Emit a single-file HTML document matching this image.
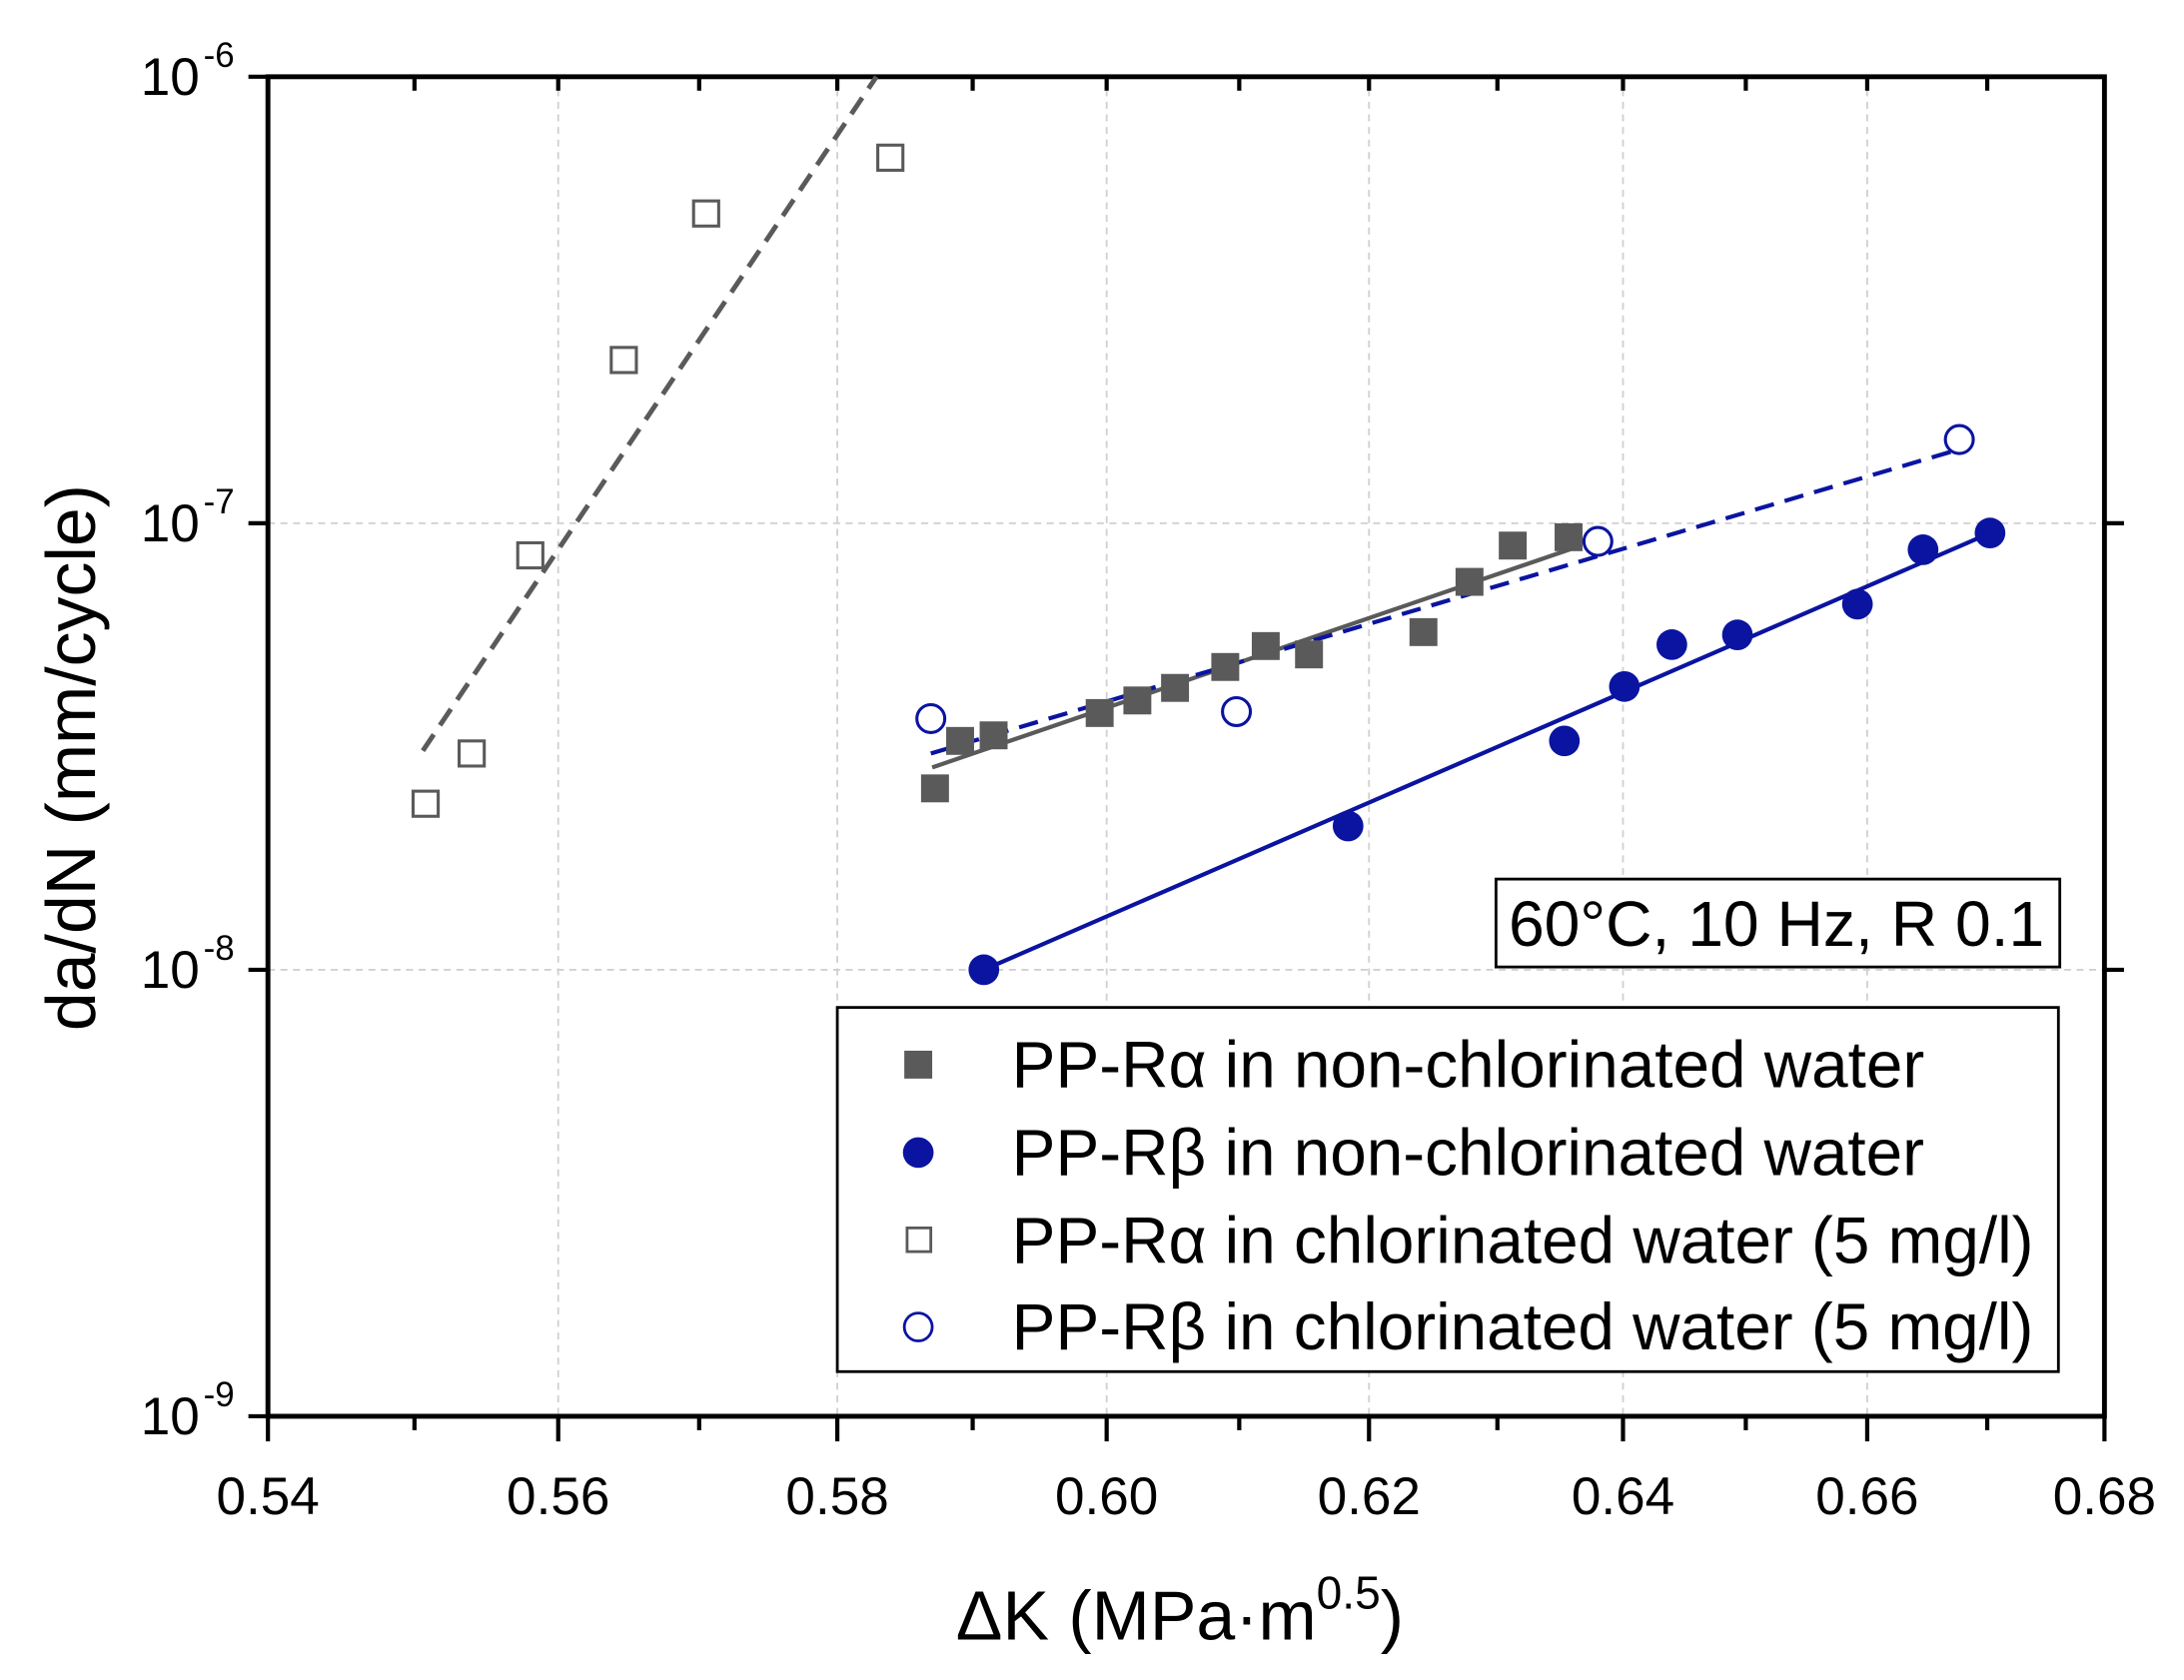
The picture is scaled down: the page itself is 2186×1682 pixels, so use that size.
<!DOCTYPE html>
<html><head><meta charset="utf-8"><style>
html,body{margin:0;padding:0;background:#fff;}
svg{display:block;}
text{font-family:"Liberation Sans",Arial,sans-serif;fill:#000;}
</style></head><body>
<svg width="2186" height="1682" viewBox="0 0 1565 1204" preserveAspectRatio="none">
<rect width="1565" height="1204" fill="#fff"/>
<g stroke="#d0d0d0" stroke-width="1.3" stroke-dasharray="5,4">
<line x1="192" y1="375" x2="1508" y2="375"/><line x1="192" y1="695" x2="1508" y2="695"/>
<line x1="400" y1="55" x2="400" y2="1015"/><line x1="600" y1="55" x2="600" y2="1015"/>
<line x1="793" y1="55" x2="793" y2="1015"/><line x1="981" y1="55" x2="981" y2="1015"/>
<line x1="1163" y1="55" x2="1163" y2="1015"/><line x1="1338" y1="55" x2="1338" y2="1015"/>
</g>
<g stroke="#000" stroke-width="3">
<line x1="192" y1="1015" x2="192" y2="1033"/><line x1="400" y1="1015" x2="400" y2="1033"/>
<line x1="600" y1="1015" x2="600" y2="1033"/><line x1="793" y1="1015" x2="793" y2="1033"/>
<line x1="981" y1="1015" x2="981" y2="1033"/><line x1="1163" y1="1015" x2="1163" y2="1033"/>
<line x1="1338" y1="1015" x2="1338" y2="1033"/><line x1="1508" y1="1015" x2="1508" y2="1033"/>
<line x1="297" y1="1015" x2="297" y2="1025"/><line x1="501" y1="1015" x2="501" y2="1025"/>
<line x1="697" y1="1015" x2="697" y2="1025"/><line x1="888" y1="1015" x2="888" y2="1025"/>
<line x1="1073" y1="1015" x2="1073" y2="1025"/><line x1="1251" y1="1015" x2="1251" y2="1025"/>
<line x1="1424" y1="1015" x2="1424" y2="1025"/>
<line x1="297" y1="55" x2="297" y2="65"/><line x1="501" y1="55" x2="501" y2="65"/>
<line x1="697" y1="55" x2="697" y2="65"/><line x1="888" y1="55" x2="888" y2="65"/>
<line x1="1073" y1="55" x2="1073" y2="65"/><line x1="1251" y1="55" x2="1251" y2="65"/>
<line x1="1424" y1="55" x2="1424" y2="65"/>
<line x1="400" y1="55" x2="400" y2="65"/><line x1="600" y1="55" x2="600" y2="65"/>
<line x1="793" y1="55" x2="793" y2="65"/><line x1="981" y1="55" x2="981" y2="65"/>
<line x1="1163" y1="55" x2="1163" y2="65"/><line x1="1338" y1="55" x2="1338" y2="65"/>
</g>
<g stroke="#000" stroke-width="3">
<line x1="178" y1="55" x2="192" y2="55"/><line x1="178" y1="375" x2="192" y2="375"/>
<line x1="178" y1="695" x2="192" y2="695"/><line x1="178" y1="1015" x2="192" y2="1015"/>
<line x1="1508" y1="375" x2="1522" y2="375"/><line x1="1508" y1="695" x2="1522" y2="695"/>
</g>
<g stroke="#000" stroke-width="3" id="minor"></g>
<script>
(function(){var g=document.getElementById('minor'),s='';
for(var d=0;d<3;d++){var base=1015-320*d;for(var m=2;m<=9;m++){var y=base-320*Math.log10(m);
s+='<line x1="183" y1="'+y+'" x2="192" y2="'+y+'"/><line x1="1508" y1="'+y+'" x2="1517" y2="'+y+'"/>';}}
g.innerHTML=s;})();
</script>
<rect x="192" y="55" width="1316" height="960" fill="none" stroke="#000" stroke-width="3.5"/>
<g font-size="38" text-anchor="middle">
<text x="192" y="1085">0.54</text><text x="400" y="1085">0.56</text><text x="600" y="1085">0.58</text>
<text x="793" y="1085">0.60</text><text x="981" y="1085">0.62</text><text x="1163" y="1085">0.64</text>
<text x="1338" y="1085">0.66</text><text x="1508" y="1085">0.68</text>
</g>
<g font-size="38" text-anchor="end">
<text x="143" y="68">10</text><text x="168" y="48" font-size="25">-6</text>
<text x="143" y="388">10</text><text x="168" y="368" font-size="25">-7</text>
<text x="143" y="708">10</text><text x="168" y="688" font-size="25">-8</text>
<text x="143" y="1028">10</text><text x="168" y="1008" font-size="25">-9</text>
</g>
<text x="685" y="1175" font-size="50">ΔK (MPa·m<tspan font-size="33" dy="-22">0.5</tspan><tspan dy="22">)</tspan></text>
<text transform="translate(68,543) rotate(-90)" font-size="50" text-anchor="middle">da/dN (mm/cycle)</text>
<line x1="303" y1="538" x2="628" y2="55" stroke="#5a5a5a" stroke-width="3.5" stroke-dasharray="14,8"/>
<line x1="668" y1="550" x2="1130" y2="392" stroke="#5a5a5a" stroke-width="3"/>
<line x1="705" y1="695" x2="1426" y2="382" stroke="#0a14a0" stroke-width="3"/>
<line x1="667" y1="540" x2="1404" y2="322" stroke="#0a14a0" stroke-width="3" stroke-dasharray="14,8"/>
<g fill="#5a5a5a">
<rect x="660" y="555" width="20" height="20"/><rect x="678" y="521" width="20" height="20"/>
<rect x="702" y="517" width="20" height="20"/><rect x="778" y="501" width="20" height="20"/>
<rect x="805" y="492" width="20" height="20"/><rect x="832" y="483" width="20" height="20"/>
<rect x="868" y="468" width="20" height="20"/><rect x="897" y="453" width="20" height="20"/>
<rect x="928" y="459" width="20" height="20"/><rect x="1010" y="443" width="20" height="20"/>
<rect x="1043" y="407" width="20" height="20"/><rect x="1074" y="381" width="20" height="20"/>
<rect x="1114" y="375" width="20" height="20"/>
</g>
<g fill="#fff" stroke="#5a5a5a" stroke-width="2.2">
<rect x="296" y="567" width="18" height="18"/><rect x="329" y="531" width="18" height="18"/>
<rect x="371" y="389" width="18" height="18"/><rect x="438" y="249" width="18" height="18"/>
<rect x="497" y="144" width="18" height="18"/><rect x="629" y="104" width="18" height="18"/>
</g>
<g fill="#0a14a0">
<circle cx="705" cy="695" r="11"/><circle cx="966" cy="592" r="11"/><circle cx="1121" cy="531" r="11"/>
<circle cx="1164" cy="492" r="11"/><circle cx="1198" cy="462" r="11"/><circle cx="1245" cy="455" r="11"/>
<circle cx="1331" cy="433" r="11"/><circle cx="1378" cy="394" r="11"/><circle cx="1426" cy="382" r="11"/>
</g>
<g fill="#fff" stroke="#0a14a0" stroke-width="2.2">
<circle cx="667" cy="515" r="10"/><circle cx="886" cy="510" r="10"/>
<circle cx="1145" cy="388" r="10"/><circle cx="1404" cy="315" r="10"/>
</g>
<rect x="1072" y="630" width="404" height="63" fill="#fff" stroke="#000" stroke-width="2"/>
<text x="1273" y="678" font-size="46" text-anchor="middle">60°C, 10 Hz, R 0.1</text>
<rect x="600" y="722" width="875" height="261" fill="#fff" stroke="#000" stroke-width="2"/>
<rect x="648" y="753" width="20" height="20" fill="#5a5a5a"/>
<circle cx="658" cy="826" r="11" fill="#0a14a0"/>
<rect x="650" y="880" width="17" height="17" fill="#fff" stroke="#5a5a5a" stroke-width="2"/>
<circle cx="658" cy="951" r="10" fill="#fff" stroke="#0a14a0" stroke-width="2"/>
<g font-size="47">
<text x="725" y="779">PP-Rα in non-chlorinated water</text>
<text x="725" y="842">PP-Rβ in non-chlorinated water</text>
<text x="725" y="905">PP-Rα in chlorinated water (5 mg/l)</text>
<text x="725" y="967">PP-Rβ in chlorinated water (5 mg/l)</text>
</g>
</svg>
</body></html>
